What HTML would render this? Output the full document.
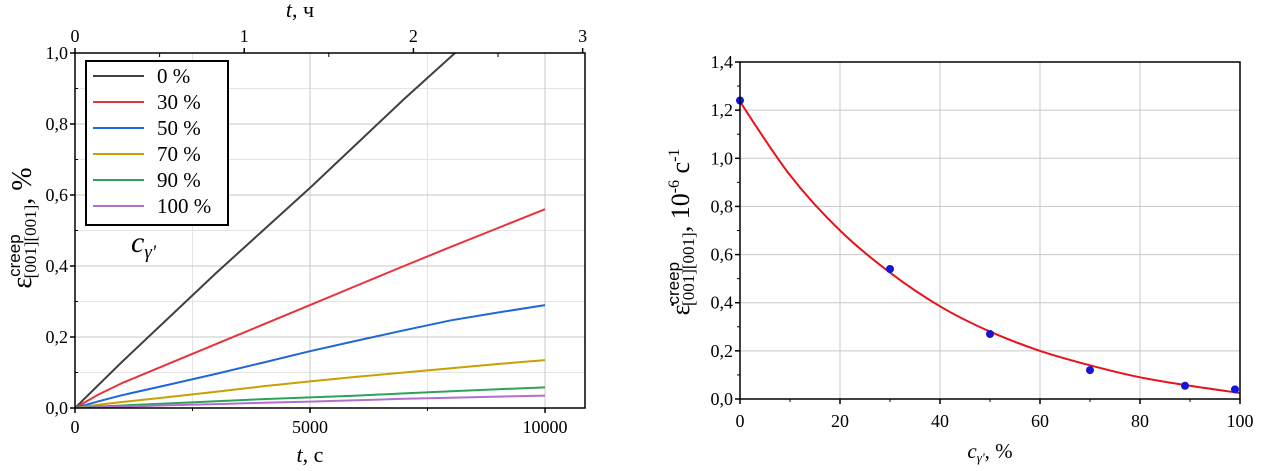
<!DOCTYPE html>
<html><head><meta charset="utf-8"><style>
html,body{margin:0;padding:0;background:#fff;}
svg{display:block;font-family:"Liberation Serif",serif;}
</style></head><body>
<svg id="fig" width="1264" height="471" viewBox="0 0 1264 471">
<g id="left"></g>
<g id="right"></g>
</svg>
<script>
const NS="http://www.w3.org/2000/svg";
// ---- Left chart data ----
const tTimes=[0,500,1000,2000,3000,4000,5000,6000,7000,8000,9000,10000];
const seriesNames=["0 %","30 %","50 %","70 %","90 %","100 %"];
const seriesColors=["#404040","#e8333b","#1f66d6","#c9a000","#2ea25a","#b06fd0"];
const s0=[0,0.065,0.13,0.255,0.38,0.5,0.62,0.745,0.87,0.99,1.11,1.23];
const s30=[0,0.038,0.07,0.125,0.18,0.235,0.29,0.345,0.4,0.454,0.507,0.56];
const s50=[0,0.019,0.036,0.066,0.096,0.128,0.16,0.19,0.219,0.247,0.269,0.29];
const s70=[0,0.009,0.017,0.031,0.046,0.061,0.075,0.088,0.1,0.112,0.124,0.135];
const s90=[0,0.004,0.007,0.013,0.019,0.025,0.03,0.035,0.041,0.047,0.053,0.058];
const s100=[0,0.002,0.004,0.008,0.011,0.015,0.018,0.022,0.026,0.029,0.032,0.035];
const leftSeries=[s0,s30,s50,s70,s90,s100];
const leftXTicks=[0,5000,10000];
const leftTopTicks=[0,1,2,3];
const leftYTicks=[0,0.2,0.4,0.6,0.8,1.0];
// ---- Right chart data ----
const cPoints=[0,30,50,70,89,99];
const ratePoints=[1.24,0.54,0.27,0.12,0.055,0.04];
const fitX=[0,10,20,30,40,50,60,70,80,90,100];
const fitY=[1.235,0.93,0.70,0.525,0.385,0.28,0.20,0.14,0.09,0.055,0.025];
const rightXTicks=[0,20,40,60,80,100];
const rightYTicks=[0,0.2,0.4,0.6,0.8,1.0,1.2,1.4];

function el(tag,attrs,parent,text){const e=document.createElementNS(NS,tag);for(const k in attrs)e.setAttribute(k,attrs[k]);if(text!==undefined)e.textContent=text;parent.appendChild(e);return e;}
const fmt=v=>v.toFixed(1).replace('.',',');

// Left chart
const L=document.getElementById('left');
const lx0=75,lx1=585,ly0=408,ly1=53,lxMax=10850;
const lX=t=>lx0+(t/lxMax)*(lx1-lx0);
const lY=v=>ly0-(v/1.0)*(ly0-ly1);
const lXh=h=>lX(h*3600);
for(let v=0.1;v<1.0;v+=0.2){const g=el('line',{x1:lx0,x2:lx1,y1:lY(v),y2:lY(v),stroke:'#e4e4e4','stroke-width':1},L);}
[2500,7500].forEach(t=>{const g=el('line',{x1:lX(t),x2:lX(t),y1:ly1,y2:ly0,stroke:'#e4e4e4','stroke-width':1},L);});
leftYTicks.forEach(v=>{if(v>0&&v<1){const g=el('line',{x1:lx0,x2:lx1,y1:lY(v),y2:lY(v),stroke:'#c8c8c8','stroke-width':1},L);}});
leftXTicks.forEach(t=>{if(t>0){const g=el('line',{x1:lX(t),x2:lX(t),y1:ly1,y2:ly0,stroke:'#c8c8c8','stroke-width':1},L);}});
const defs=el('defs',{},L);const cp=el('clipPath',{id:'lclip'},defs);el('rect',{x:lx0,y:ly1,width:lx1-lx0,height:ly0-ly1},cp);
leftSeries.forEach((s,i)=>{const d=s.map((v,j)=>(j?'L':'M')+lX(tTimes[j]).toFixed(1)+','+lY(v).toFixed(1)).join(' ');
 const p=el('path',{d:d,fill:'none',stroke:seriesColors[i],'stroke-width':2,'stroke-linejoin':'round','clip-path':'url(#lclip)'},L);
 
 });
const lf=el('rect',{x:lx0,y:ly1,width:lx1-lx0,height:ly0-ly1,fill:'none',stroke:'#000','stroke-width':1.5},L);

leftYTicks.forEach(v=>{el('line',{x1:lx0-5,x2:lx0,y1:lY(v),y2:lY(v),stroke:'#000','stroke-width':1.5},L);
 const t=el('text',{x:lx0-7,y:lY(v)+6,'text-anchor':'end','font-size':18},L,fmt(v));});
for(let v=0.1;v<1;v+=0.2)el('line',{x1:lx0,x2:lx0+3,y1:lY(v),y2:lY(v),stroke:'#000'},L);
leftXTicks.forEach(v=>{el('line',{x1:lX(v),x2:lX(v),y1:ly0,y2:ly0+5,stroke:'#000','stroke-width':1.5},L);
 const t=el('text',{x:lX(v),y:ly0+25,'text-anchor':'middle','font-size':18},L,String(v));});
[2500,7500].forEach(v=>el('line',{x1:lX(v),x2:lX(v),y1:ly0,y2:ly0+3,stroke:'#000'},L));
leftTopTicks.forEach(v=>{el('line',{x1:lXh(v),x2:lXh(v),y1:ly1-5,y2:ly1,stroke:'#000','stroke-width':1.5},L);
 const t=el('text',{x:lXh(v),y:ly1-11,'text-anchor':'middle','font-size':18},L,String(v));});
[0.5,1.5,2.5].forEach(v=>el('line',{x1:lXh(v),x2:lXh(v),y1:ly1,y2:ly1+4,stroke:'#000'},L));
const lg=el('g',{},L);
el('rect',{x:86,y:61,width:142,height:164,fill:'#fff',stroke:'#000','stroke-width':2},lg);
seriesNames.forEach((n,i)=>{const y=76+i*26;const g=el('g',{},lg);
 el('line',{x1:93,x2:144,y1:y,y2:y,stroke:seriesColors[i],'stroke-width':2},g);
 el('text',{x:157,y:y+7,'font-size':21},g,n);});
const cg=el('text',{x:131,y:252,'font-size':30,'font-style':'italic'},L);
cg.innerHTML='c<tspan font-size="19" dy="6">γ\'</tspan>';
const xt=el('text',{x:310,y:462,'text-anchor':'middle','font-size':22},L);
xt.innerHTML='<tspan font-style="italic">t</tspan>, с';
const tt=el('text',{x:300,y:17,'text-anchor':'middle','font-size':22},L);
tt.innerHTML='<tspan font-style="italic">t</tspan>, ч';
const yt=el('text',{transform:'translate(31,228) rotate(-90)','text-anchor':'middle','font-size':28},L);
yt.innerHTML='ε<tspan font-size="17" font-family="Liberation Sans" dy="-11">creep</tspan><tspan font-size="17" dx="-44" dy="16">[001][001]</tspan><tspan dy="-5">, %</tspan>';

// Right chart
const R=document.getElementById('right');
const rx0=740,rx1=1240,ry0=399,ry1=62;
const rX=c=>rx0+(c/100)*(rx1-rx0);
const rY=v=>ry0-(v/1.4)*(ry0-ry1);
rightYTicks.forEach(v=>{if(v>0&&v<1.4){const g=el('line',{x1:rx0,x2:rx1,y1:rY(v),y2:rY(v),stroke:'#c8c8c8'},R);}});
rightXTicks.forEach(v=>{if(v>0&&v<100){const g=el('line',{x1:rX(v),x2:rX(v),y1:ry1,y2:ry0,stroke:'#c8c8c8'},R);}});
const pts=fitX.map((c,i)=>[rX(c),rY(fitY[i])]);
let d='M'+pts[0][0]+','+pts[0][1];
for(let i=0;i<pts.length-1;i++){const p0=pts[i-1]||pts[i],p1=pts[i],p2=pts[i+1],p3=pts[i+2]||p2;
 d+=' C'+(p1[0]+(p2[0]-p0[0])/6).toFixed(1)+','+(p1[1]+(p2[1]-p0[1])/6).toFixed(1)+' '+(p2[0]-(p3[0]-p1[0])/6).toFixed(1)+','+(p2[1]-(p3[1]-p1[1])/6).toFixed(1)+' '+p2[0].toFixed(1)+','+p2[1].toFixed(1);}
const fit=el('path',{d:d,fill:'none',stroke:'#e8121a','stroke-width':2},R);
cPoints.forEach((c,i)=>{const m=el('circle',{cx:rX(c),cy:rY(ratePoints[i]),r:4,fill:'#1515d8'},R);});
const rf=el('rect',{x:rx0,y:ry1,width:rx1-rx0,height:ry0-ry1,fill:'none',stroke:'#000','stroke-width':1.5},R);
rightYTicks.forEach(v=>{el('line',{x1:rx0-5,x2:rx0,y1:rY(v),y2:rY(v),stroke:'#000','stroke-width':1.5},R);
 const t=el('text',{x:rx0-7,y:rY(v)+6,'text-anchor':'end','font-size':18},R,fmt(v));});
for(let i=0;i<14;i++){const v=0.1+0.2*i;if(v<1.4)el('line',{x1:rx0-3,x2:rx0,y1:rY(v),y2:rY(v),stroke:'#000'},R);}
rightXTicks.forEach(v=>{el('line',{x1:rX(v),x2:rX(v),y1:ry0,y2:ry0+5,stroke:'#000','stroke-width':1.5},R);
 const t=el('text',{x:rX(v),y:ry0+28,'text-anchor':'middle','font-size':18},R,String(v));});
[10,30,50,70,90].forEach(v=>el('line',{x1:rX(v),x2:rX(v),y1:ry0,y2:ry0+3,stroke:'#000'},R));
const rxt=el('text',{x:990,y:458,'text-anchor':'middle','font-size':21},R);
rxt.innerHTML='<tspan font-style="italic">c</tspan><tspan font-size="13" font-style="italic" dy="4">γ\'</tspan><tspan dy="-4">, %</tspan>';
const ryt=el('text',{transform:'translate(689,232) rotate(-90)','text-anchor':'middle','font-size':26},R);
ryt.innerHTML='ε̇<tspan font-size="17" font-family="Liberation Sans" dy="-10">creep</tspan><tspan font-size="17" dx="-44" dy="15">[001][001]</tspan><tspan dy="-5">, 10</tspan><tspan font-size="16" dy="-10">-6</tspan><tspan dy="10"> с</tspan><tspan font-size="16" dy="-10">-1</tspan>';
</script>
</body></html>
